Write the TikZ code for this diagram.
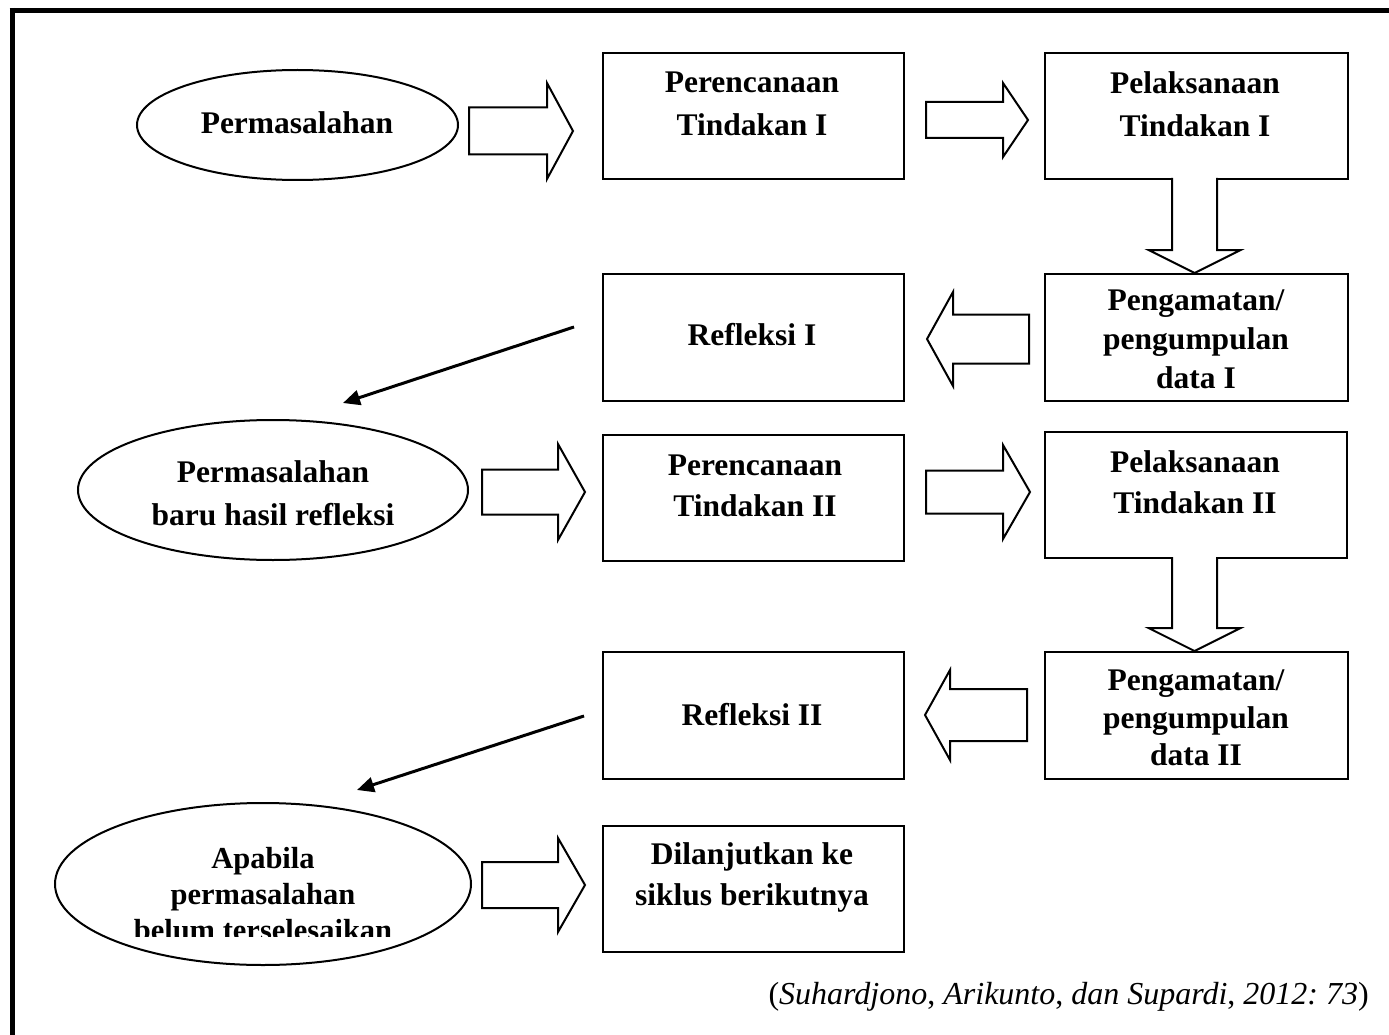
\documentclass[tikz,border=0pt]{standalone}
\usepackage{fontspec}
\setmainfont{Liberation Serif}
\usetikzlibrary{shapes.geometric,arrows.meta}
\frenchspacing
\tikzset{
  boxnode/.style={draw,line width=2pt,rectangle,inner sep=0pt,anchor=north west},
  ellnode/.style={draw,line width=2pt,ellipse,inner sep=0pt},
  lbl/.style={align=center,inner sep=0pt,font=\fontsize{31.5}{41}\selectfont\bfseries},
  blockarrow/.style={draw,line width=2pt,line join=miter,fill=white},
  thinarrow/.style={line width=3pt,-{Triangle[length=17pt,width=15pt]}},
  frameline/.style={line width=5pt}
}
% right block arrow: xl, xh, xt, yc, body half, head half
\newcommand\myrarrow[6]{\draw[blockarrow] (#1,#4-#5) -- (#2,#4-#5) -- (#2,#4-#6) -- (#3,#4) -- (#2,#4+#6) -- (#2,#4+#5) -- (#1,#4+#5) -- cycle;}
% left block arrow: xr, xh, xt, yc, body half, head half
\newcommand\mylarrow[6]{\draw[blockarrow] (#1,#4-#5) -- (#2,#4-#5) -- (#2,#4-#6) -- (#3,#4) -- (#2,#4+#6) -- (#2,#4+#5) -- (#1,#4+#5) -- cycle;}
% down block arrow: yt, yh, ytip, xc, body half, head half
\newcommand\mydarrow[6]{\draw[blockarrow] (#4-#5,#1) -- (#4-#5,#2) -- (#4-#6,#2) -- (#4,#3) -- (#4+#6,#2) -- (#4+#5,#2) -- (#4+#5,#1);}
\begin{document}
\begin{tikzpicture}[x=1pt,y=-1pt]
\useasboundingbox (0,0) rectangle (1389,1035);
% frame
\draw[frameline] (9.5,10.5) -- (1389,10.5);
\draw[frameline] (12,8) -- (12,1035);

% ellipses
\node[ellnode,minimum width=321pt,minimum height=110pt] (e1) at (297.5,125) {};
\node[ellnode,minimum width=390pt,minimum height=140pt] (e2) at (273,490) {};
\node[ellnode,minimum width=416pt,minimum height=162pt] (e3) at (263,884) {};

% boxes
\node[boxnode,minimum width=301pt,minimum height=126pt] (b1) at (602,52) {};
\node[boxnode,minimum width=303pt,minimum height=126pt] (b2) at (1044,52) {};
\node[boxnode,minimum width=303pt,minimum height=127pt] (b3) at (1044,273) {};
\node[boxnode,minimum width=301pt,minimum height=127pt] (b4) at (602,273) {};
\node[boxnode,minimum width=301pt,minimum height=126pt] (b5) at (602,434) {};
\node[boxnode,minimum width=302pt,minimum height=126pt] (b6) at (1044,431) {};
\node[boxnode,minimum width=303pt,minimum height=127pt] (b7) at (1044,651) {};
\node[boxnode,minimum width=301pt,minimum height=127pt] (b8) at (602,651) {};
\node[boxnode,minimum width=301pt,minimum height=126pt] (b9) at (602,825) {};

% labels
\node[lbl] (t1) at (297,123) {Permasalahan};
\node[lbl,font=\fontsize{31.5}{43}\selectfont\bfseries] (t2) at (752,104) {Perencanaan\\Tindakan I};
\node[lbl,font=\fontsize{31.5}{43}\selectfont\bfseries] (t3) at (1195,104) {Pelaksanaan\\Tindakan I};
\node[lbl,font=\fontsize{31.5}{39}\selectfont\bfseries] (t4) at (1196,339) {Pengamatan/\\pengumpulan\\data I};
\node[lbl] (t5) at (752,335) {Refleksi I};
\node[lbl,font=\fontsize{31.5}{43}\selectfont\bfseries] (t6) at (273,493) {Permasalahan\\baru hasil refleksi};
\node[lbl] (t7) at (755,486) {Perencanaan\\Tindakan II};
\node[lbl] (t8) at (1195,482) {Pelaksanaan\\Tindakan II};
\node[lbl,font=\fontsize{31.5}{37.5}\selectfont\bfseries] (t9) at (1196,718) {Pengamatan/\\pengumpulan\\data II};
\node[lbl] (t10) at (752,715) {Refleksi II};
\begin{scope}
\clip (0,790) rectangle (600,936);
\node[lbl,font=\fontsize{30.5}{36}\selectfont\bfseries] (t11) at (263,894) {Apabila\\permasalahan\\belum terselesaikan};
\end{scope}
\node[lbl] (t12) at (752,877) {Dilanjutkan ke\\siklus berikutnya};

% block arrows
\myrarrow{469}{547}{573}{131}{23.5}{48}
\myrarrow{926}{1003}{1028}{120}{18}{37}
\mydarrow{178}{250}{273}{1194.5}{22.5}{46}
\mylarrow{1029}{953}{927}{339}{24.5}{47}
\myrarrow{482}{558}{585}{492}{22.5}{48}
\myrarrow{926}{1003}{1030}{492}{21.5}{47}
\mydarrow{557}{628}{651}{1194.5}{22.5}{46}
\mylarrow{1027}{950}{925}{715}{26}{45}
\myrarrow{482}{558}{585}{885}{23}{47}

% thin arrows
\coordinate (r1a) at (574,327);
\coordinate (r1b) at (343,403);
\coordinate (r2a) at (584,716);
\coordinate (r2b) at (357,790);
\draw[thinarrow] (r1a) -- (r1b);
\draw[thinarrow] (r2a) -- (r2b);

% citation
\node[anchor=east,inner sep=0pt,font=\fontsize{32}{38}\selectfont] (cite) at (1369,997)
  {(\textit{Suhardjono}, \textit{Arikunto}, \textit{dan Supardi}, \textit{2012: 73})};
\end{tikzpicture}
\end{document}
